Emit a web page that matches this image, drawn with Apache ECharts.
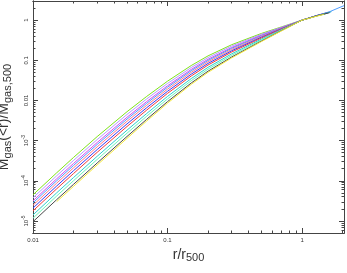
<!DOCTYPE html>
<html><head><meta charset="utf-8">
<script src="https://cdn.jsdelivr.net/npm/echarts@6/dist/echarts.min.js"></script>
<style>html,body{margin:0;padding:0;background:#fff}#c{width:347px;height:273px}</style>
</head><body><div id="c"></div>
<script>
// radius grid r/r500
const r = [0.01,0.015,0.02,0.03,0.05,0.07,0.1,0.15,0.2,0.3,0.5,0.7,1.0];
// Mgas(<r)/Mgas,500 for each profile
const green    = [4.47e-5,1.58e-4,3.80e-4,1.26e-3,5.25e-3,0.0126,0.0302,0.0741,0.129,0.245,0.468,0.676,1.0];
const lavender = [3.76e-5,1.33e-4,3.20e-4,1.06e-3,4.48e-3,0.0109,0.0265,0.0662,0.117,0.227,0.446,0.660,1.0];
const magenta  = [3.16e-5,1.12e-4,2.69e-4,8.97e-4,3.82e-3,9.39e-3,0.0232,0.0592,0.106,0.209,0.425,0.644,1.0];
const sky      = [2.82e-5,1.00e-4,2.40e-4,8.02e-4,3.44e-3,8.51e-3,0.0213,0.0550,0.0991,0.199,0.411,0.634,1.0];
const pink     = [2.45e-5,8.71e-5,2.09e-4,7.00e-4,3.03e-3,7.57e-3,0.0191,0.0502,0.0916,0.186,0.395,0.622,1.0];
const blue     = [2.09e-5,7.41e-5,1.78e-4,5.98e-4,2.61e-3,6.59e-3,0.0169,0.0452,0.0836,0.173,0.378,0.608,1.0];
const red      = [1.78e-5,6.31e-5,1.51e-4,5.11e-4,2.25e-3,5.75e-3,0.0150,0.0407,0.0762,0.161,0.361,0.594,1.0];
const cyan     = [1.41e-5,5.01e-5,1.20e-4,4.07e-4,1.82e-3,4.73e-3,0.0126,0.0351,0.0668,0.145,0.339,0.575,1.0];
const mint     = [1.17e-5,4.17e-5,1.00e-4,3.40e-4,1.53e-3,4.05e-3,0.0109,0.0311,0.0601,0.133,0.322,0.561,1.0];
const gray     = [9.55e-6,3.39e-5,8.13e-5,2.77e-4,1.27e-3,3.39e-3,9.35e-3,0.0272,0.0535,0.121,0.303,0.545,1.0];
const yellow   = [null,3.02e-5,7.24e-5,2.48e-4,1.14e-3,3.08e-3,8.57e-3,0.0252,0.0501,0.115,0.294,0.536,1.0];
// outer parts beyond r500: [r, value]
const greenOut    = [[1.3,1.29],[1.4,1.38]];
const lavenderOut = [[1.3,1.31],[1.6,1.58]];
const magentaOut  = [[1.3,1.32],[1.65,1.64]];
const skyOut      = [[1.3,1.32],[1.6,1.62],[2.05,2.3]];
const pinkOut     = [[1.3,1.30],[1.55,1.52]];
const blueOut     = [[1.3,1.31],[1.6,1.57]];
const redOut      = [[1.3,1.29],[1.5,1.46]];
const cyanOut     = [[1.3,1.30],[1.65,1.62]];
const mintOut     = [[1.3,1.28],[1.5,1.44]];
const grayOut     = [[1.3,1.30],[1.6,1.53]];
const yellowOut   = [[1.3,1.27],[1.45,1.39]];

const xMajor = [0.01,0.1,1];
const yMajor = [1e-5,1e-4,1e-3,0.01,0.1,1];
const xMinor = [0.02,0.03,0.04,0.05,0.06,0.07,0.08,0.09,0.2,0.3,0.4,0.5,0.6,0.7,0.8,0.9,2];
const yMinor = [6e-6,7e-6,8e-6,9e-6,2e-5,3e-5,4e-5,5e-5,6e-5,7e-5,8e-5,9e-5,2e-4,3e-4,4e-4,5e-4,6e-4,7e-4,8e-4,9e-4,
  2e-3,3e-3,4e-3,5e-3,6e-3,7e-3,8e-3,9e-3,0.02,0.03,0.04,0.05,0.06,0.07,0.08,0.09,0.2,0.3,0.4,0.5,0.6,0.7,0.8,0.9,2,3];

const profiles = [
  ['green','#7fe21a',green,greenOut],
  ['lavender','#b59aff',lavender,lavenderOut],
  ['magenta','#d84cf0',magenta,magentaOut],
  ['sky','#4f9dff',sky,skyOut],
  ['pink','#ff7a8c',pink,pinkOut],
  ['blue','#3a3af5',blue,blueOut],
  ['red','#f43c3c',red,redOut],
  ['cyan','#2ccfcf',cyan,cyanOut],
  ['mint','#6cf5b8',mint,mintOut],
  ['gray','#4a4a4a',gray,grayOut],
  ['yellow','#f5e83a',yellow,yellowOut]
];

const FONT = 'Liberation Sans';
const XMIN = 0.01, XMAX = 2.05, YMIN = 5e-6, YMAX = 3;
const lineCol = '#444';
const nameRich = {
  m:{fontSize:14, fontFamily:FONT, color:'#333', lineHeight:16, verticalAlign:'top'},
  s:{fontSize:11, fontFamily:FONT, color:'#333', lineHeight:11, verticalAlign:'bottom'}
};

function fmtX(v){ return v>=1 ? String(Math.round(v)) : (v>=0.1 ? '0.1' : '0.01'); }
function fmtY(v){
  const e = Math.round(Math.log10(v));
  if (e===0) return '1';
  if (e===-1) return '0.1';
  if (e===-2) return '0.01';
  return '{b|10}{p|' + e + '}';
}

function xAx(pos, major, showLabel, name){
  const a = {
    type:'log', logBase:10, min:XMIN, max:XMAX, position:pos, gridIndex:0,
    axisLine:{show:true, onZero:false, lineStyle:{color:lineCol, width:1}},
    axisTick:{show:true, inside:true, length: major?5:2.5, customValues: major?xMajor:xMinor, lineStyle:{color:lineCol, width:1}},
    axisLabel:{show:showLabel, customValues:xMajor, formatter:fmtX, fontFamily:FONT, fontSize:6, color:'#333', margin:4},
    splitLine:{show:false}, minorTick:{show:false}
  };
  if (name){
    a.name = '{m|r/r}{s|500}'; a.nameLocation='middle'; a.nameGap=13;
    a.nameTextStyle = {fontFamily:FONT, color:'#333', rich:nameRich};
  }
  return a;
}
function yAx(pos, major, showLabel, name){
  const a = {
    type:'log', logBase:10, min:YMIN, max:YMAX, position:pos, gridIndex:0,
    axisLine:{show:true, onZero:false, lineStyle:{color:lineCol, width:1}},
    axisTick:{show:true, inside:true, length: major?5:2.5, customValues: major?yMajor:yMinor, lineStyle:{color:lineCol, width:1}},
    axisLabel:{show:showLabel, customValues:yMajor, formatter:fmtY, rotate:90, fontFamily:FONT, fontSize:6, color:'#333', margin:4,
      rich:{b:{fontSize:6, fontFamily:FONT, color:'#333', lineHeight:8, verticalAlign:'bottom'},
            p:{fontSize:5, fontFamily:FONT, color:'#333', lineHeight:5, verticalAlign:'top'}}},
    splitLine:{show:false}, minorTick:{show:false}
  };
  if (name){
    a.name = '{m|M}{s|gas}{m|(<r)/M}{s|gas,500}'; a.nameLocation='middle'; a.nameGap=15;
    a.nameTextStyle = {fontFamily:FONT, color:'#333', rich:nameRich};
  }
  return a;
}

const chart = echarts.init(document.getElementById('c'), null, {renderer:'canvas'});
chart.setOption({
  animation:false,
  backgroundColor:'#fff',
  grid:{left:33, right:3, top:1, bottom:40, containLabel:false, outerBoundsMode:'none'},
  xAxis:[xAx('bottom',true,true,true), xAx('bottom',false,false,false), xAx('top',true,false,false), xAx('top',false,false,false)],
  yAxis:[yAx('left',true,true,true), yAx('left',false,false,false), yAx('right',true,false,false), yAx('right',false,false,false)],
  series: profiles.map(p => ({
    name:p[0], type:'line', xAxisIndex:0, yAxisIndex:0, showSymbol:false, symbol:'none',
    lineStyle:{color:p[1], width:1}, itemStyle:{color:p[1]}, clip:true,
    data: r.map((x,i)=>[x,p[2][i]]).filter(d=>d[1]!==null).concat(p[3])
  }))
});
</script></body></html>
